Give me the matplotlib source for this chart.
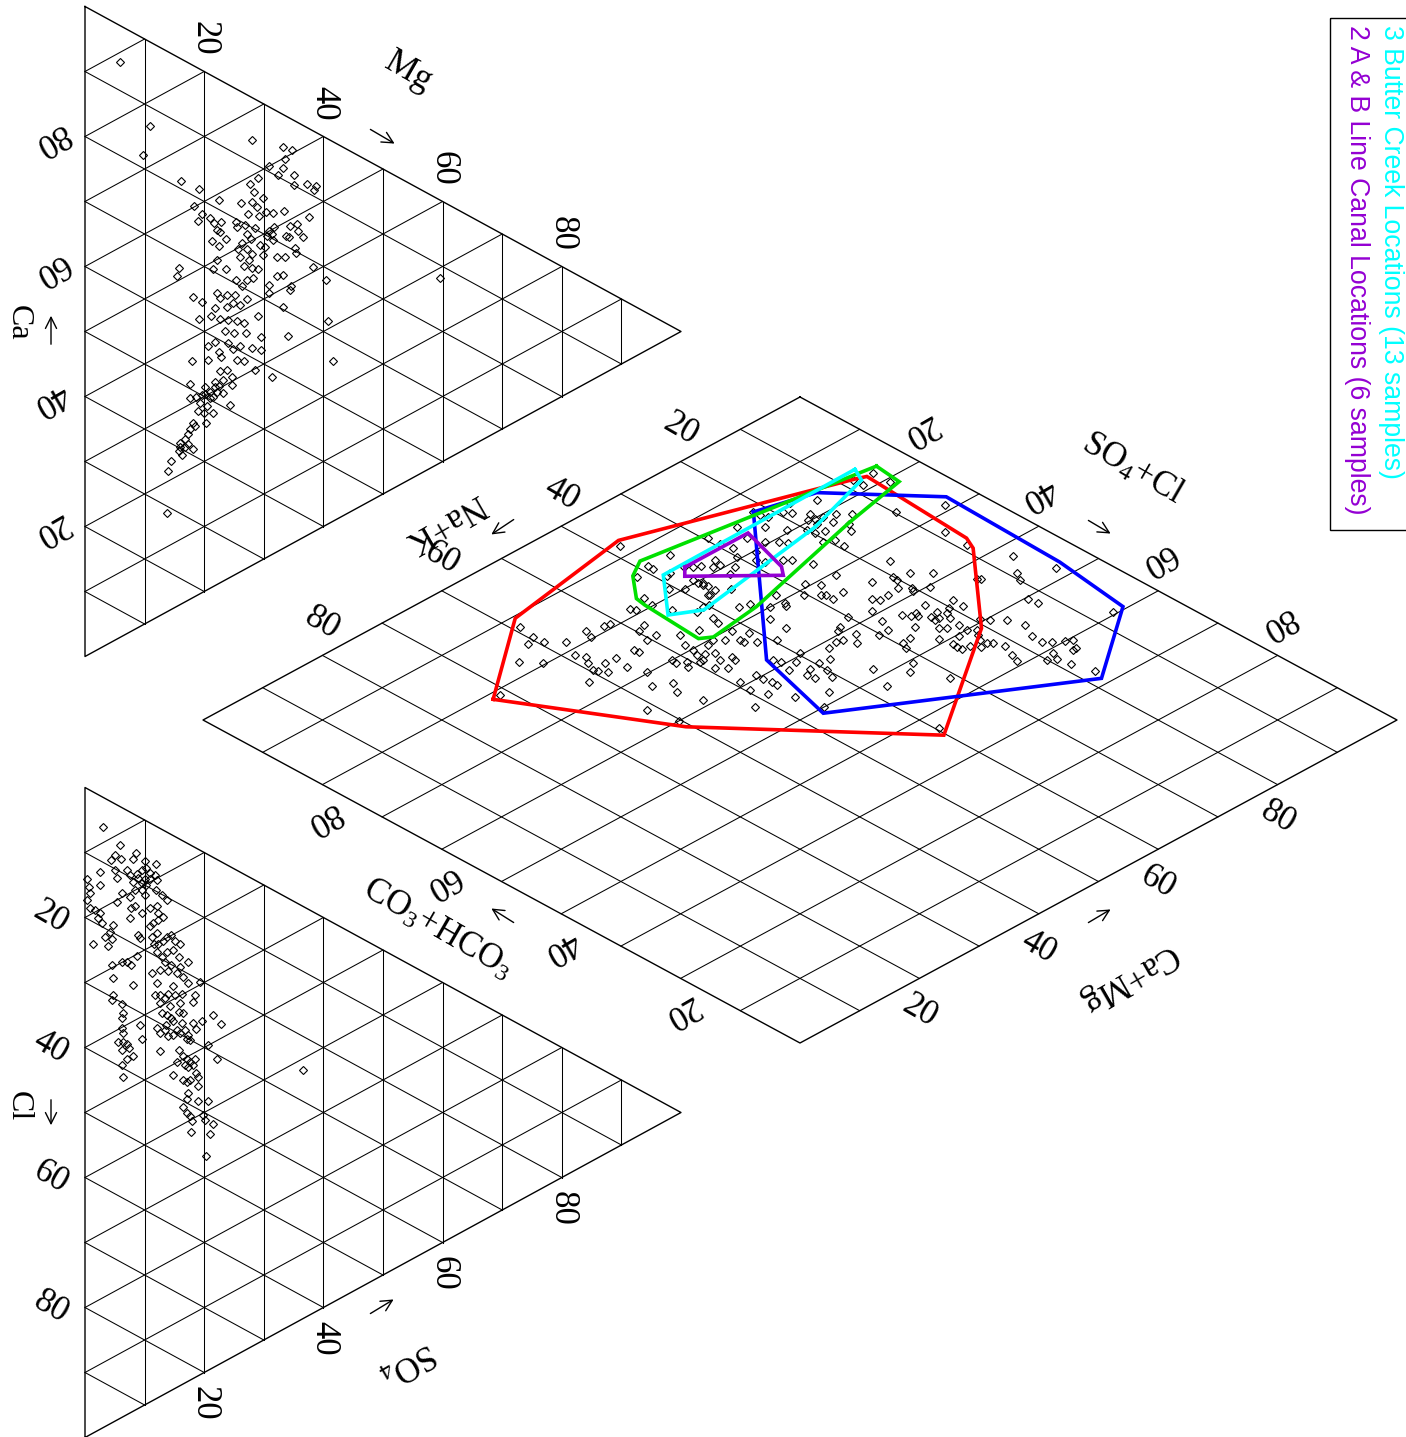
import matplotlib
matplotlib.use('Agg')
import matplotlib.pyplot as plt
import numpy as np
from matplotlib.patches import Rectangle

plt.rcParams['font.family'] = ['Liberation Serif', 'DejaVu Serif']
plt.rcParams['mathtext.fontset'] = 'custom'
plt.rcParams['mathtext.rm'] = 'Liberation Serif'
plt.rcParams['mathtext.it'] = 'Liberation Serif:italic'

# ---------------- data (percent) ----------------
cation_mg = [5.9,10.9,9.8,28,33.2,34.8,33.6,30.9,33.3,32.3,35.1,35.1,37.3,38.8,38.4,16.1,19.2,29.1,27.7,28.4,
             29.8,28,26.2,22.4,18.3,19.6,19,21,21.6,22.8,22.1,22.7,23.7,21.3,22.4,25.4,25.5,26.8,27.4,28.8,
             29.2,30.3,31.6,33.4,37.6,31.7,31.3,30.5,34.4,35.6,35.8,33.7,34.2,36.6,27.1,27.8,26.3,25.7,27.1,28.1,
             29.4,29.9,35.2,35.4,32.2,33.6,38.3,40.4,22.1,21.5,23.7,15.7,15.4,26.6,28,29.1,30.8,32.2,33.3,34.5,
             25.4,27.1,28.2,26.3,30.8,31.6,30.2,28.5,27.6,26,
             18.1,19.7,22.1,22.7,23.8,25.2,24.9,26,27.1,21.8,23.8,19.2,21.1,22.7,24,25.5,26.6,29.1,23.5,25,
             27,29.6,34.1,33.3,34.4,30.9,40.7,20.7,21.8,22.4,22.9,24,24.9,26,28,29.6,25.5,26.6,20.7,17.9,
             28.5,31.3,41.6,22.7,23.8,24.6,23.2,21.8,24.6,17.6,20.1,21,22.1,21.5,19.6,17.6,18.7,23.1,24.3,19.3,
             19,20.4,21.4,20,20.3,18.1,17.7,17.3,18.5,16.8,15.9,17.3,18.2,15.7,16.2,14.4,14,13.7,20.1,21,
             21.8,22.4,15.9,16.8,59.6]
cation_ca = [88.5,76.1,72.3,65.5,61.8,60.6,59.8,60,58.5,57.9,56.6,55,54,53,52.6,65.1,62.3,59,58.8,57.2,
             55.6,55.9,56.6,59.1,60.1,58.3,57.5,56.9,55.9,55.4,54.5,53.9,52.4,53.3,51.9,54.2,53.3,53,54.4,54.8,
             53.1,53.2,52.4,51.8,48.8,50.2,49.4,49.4,49.1,48.7,47.6,47.9,47.4,46.2,51.5,50.4,50.5,49.9,49.2,47.9,
             48.6,46.8,45.2,44.4,45.3,44.7,40.7,37.8,50,48.8,47.8,51.9,50.9,46.7,45.7,45,41.8,42.4,42.1,39.7,
             45.2,44.3,44.1,43.8,50,48.3,47.9,51.6,47.2,48.5,
             46.2,44.7,44.8,43.8,43.7,43,41.9,41.1,41.4,42.7,41.9,42.4,41.8,40.5,39.8,38.8,38,37.8,38.3,37.2,
             36.2,34.3,32.2,37.1,39.2,40.4,31.2,37.4,37.5,35.7,34.6,36.2,34.8,34.7,33.4,32.4,32.9,32.1,35.2,36.5,
             29.8,27.3,24.6,32.5,32.2,30.7,30.9,31.4,29.5,33.1,31.4,30.2,29.7,29.2,30.4,30.9,30.6,29,26.5,29.4,
             28.2,28.3,26.7,27.5,25.7,26.9,26.2,25.6,26.2,25,24.9,24.1,22.9,23.7,22.9,22.9,21.6,15.3,30.4,29.2,
             30.5,30.4,24.3,23.9,28.4]

anion_so4 = [3.1,5.8,5,6,4.3,8.5,8.1,10.1,11.9,5,2.5,7,7.6,8.7,9.5,10.3,10.9,11.7,8.9,10.1,
             10.9,5.3,8.1,9.5,10.3,12,8.4,9.5,11.9,0.3,0.6,0.8,0.3,2.6,6.2,7.6,10.1,12.9,13.7,5.3,
             0.8,1.7,2.5,7.8,8.4,9.5,10.9,12,12.3,13.1,7.6,2.2,2.8,4.7,4.2,3.4,1.4,3.9,4.5,8.9,
             9.2,11.2,10.9,11.4,12.3,12,11.5,12.3,13.1,13.7,14.5,15.1,15.9,12.1,12.9,13.8,14.8,15.8,17.2,13.4,
             14.5,15.9,4.5,6.2,7,7.8,8.7,11.2,12.6,14,15.4,16.5,17.3,19.3,4.7,8,12,14.8,
             4.7,4.5,6.2,6.4,6.2,6.2,6.4,5.6,6.4,7,6.2,7.3,7,8.1,6.2,6.4,9.2,9.5,11.7,12.6,
             13.4,12.6,14.3,14,15.1,16.2,18.5,18.2,15.9,12.9,13.7,14.5,14.8,15.7,16.5,16.2,16.8,15.4,15.9,14.8,
             13.4,14,12,17.1,17.6,17.3,18.6,19.7,21.4,22.9,18.2,15.7,16.5,17.1,17.6,16.8,17.3,18.2,18.5,15.4,
             14.8,16.5,17.1,17.6,19,19,12.6,17.3,17.1,16.5,19,20.7,17.1,17.6,17.9,19.8,20.1,21.5,21,17.8,
             20.3,20.7,22.1,12.6,13.6,18.7,36.6]
anion_cl = [4.6,5.9,7.9,8,9,5.8,7,6.2,5.8,10.2,11.7,9.2,9.7,8.9,7.9,7.2,7.7,7.6,9.5,9,
            8.7,11.3,10.5,9.9,9.8,8.2,11.6,11,9.8,14,15,15.9,17.2,13.7,13.2,13.1,11.5,10.1,10.5,14.9,
            18.2,18,18.1,14.7,14.1,14.6,13.1,12.3,13.2,13.3,16.3,19,19.5,18.8,20.1,21.3,23.4,22.4,21,18.2,
            18.6,17.4,15.9,15.2,14.2,16.4,18.3,18,17.1,16.1,15.4,16.1,16.2,19.2,19.6,18.4,17.6,18.1,18.2,20.1,
            20,19.6,25.1,23.7,23.3,23.4,21.6,23,21.8,21.3,20.9,20.9,21.4,20.3,27,26.4,24.1,23.2,
            29.5,30.5,30.2,31.5,32.4,33.9,34.6,36.3,35.9,35.9,37.3,36.5,38.2,37.3,39.6,41.3,31.9,34,26,25.6,
            25.7,26.9,26.4,24.7,24.4,23.6,22.7,23.9,25.2,28.3,28.1,28.2,28.5,26.7,26.5,28.2,28.9,29.6,29.8,30.7,
            30.6,31.3,31,30.1,30,29.4,27.9,26.1,24.3,24.9,27.2,32.6,33,33.2,33.4,34.3,34.3,33.6,32.5,34.5,
            36.8,36.8,36.8,36.2,35,36.4,34.2,38.3,39.3,40.9,38.8,37.9,41.6,41.8,42.4,40.5,41.1,41,42.8,44.1,
            46.5,29.3,30.7,31.4,29.7,34.6,25.1]

diamond_nak = [38.2,35.4,39,38.9,41.5,38.2,38.9,40.6,43.7,44.2,44.6,47.1,46.7,51.1,51.9,54.1,54.7,57.5,59.3,59.6,
               61,59,64.5,62.7,58.8,58.2,58.9,59.6,59.3,57.5,58.6,55.8,56.3,61.8,53.1,52.9,48.4,49.6,50.4,48.9,
               55.4,57.1,54.9,55.9,61.3,60.2,71.3,46.9,51.5,51.6,50.5,51.1,48,48.1,48.6,49.4,44.6,55,36,35.3,
               34.4,37.3,37.3,37.3,39.3,41.9,39.8,38.4,29.6,
               5.7,8.4,8.3,5.6,14.5,17.2,19.2,21.6,21.7,21.2,18.7,17.2,18.4,17.7,16.6,15,13.7,16.5,18.2,20,
               19.8,18.6,15.6,16.5,9.7,21.7,24.2,23.6,23,25.4,26.3,25.4,20.5,19.2,19.4,29.4,29,30,32.4,32.7,
               33.5,31.7,33.2,27.6,28.9,28.5,26.7,25.9,37,37,37,38.2,35.5,37.6,36.2,32.7,33.2,33.5,35,36.9,
               36.9,39.6,28.5,24.7,27.3,28.9,28.5,30.4,28.4,26.6,24.5,22.6,17.9,18.1,20,20.2,20.2,20.6,21.4,23.2,
               24.7,25.2,30,27.2,27.9,25.2,24.6,24,28.7,30.2,28.1,29.5,30,32.2,33.1,34,35,32,33.4,36.5,
               38,39.6,40,41.2,42.5,42.3,40.7,43.2,39.7,41.3,43.2,42.5,43,46.4,46.5,46.9,45.9,35.9,37.5,33.3,
               49.6,48.6,51.7,49.1,46.7,46.7,45.9,46.2,42.7,42.6,40.8,41.5,48,47.4,49.1,41.9,41.5,42,43.9,44.9,
               46.1,46.8,47.7,48.8,40.6,
               4.6,8.7,9,6.8,5.1,9.1,9.9,16.1,13.4,13,18.5,18.6,21.7,18.7,20.2,21.1,21.8,22.6,23.2,23,
               23.7,25.9,24.2,21.7,22,23.5,23.6,22.1,19.3,18.6,21.3,22,25.8,25.4,25.5,25.4,24.3,22.5,23.5,22.4,
               21.9,17.2,16.5,21.3,22.2,22.7,17.6,17.6,16.8,18.4,19.1,20.1,15.5,14.8,15.7,16.3,18.7,17.7,7,12,
               12.2,31,39.7,31.7]
diamond_so4cl = [8,13.6,14.4,13.4,14.2,16.4,16.6,18.7,22.2,18.1,19.8,18.6,19.2,19.2,19,18.3,19.7,18.3,16.5,14.8,
                 15.5,12.1,17.5,19.7,21.1,22.4,23.4,25,25.5,24.8,26.5,24.9,27.3,26.5,25.3,26,22.3,22.7,24.7,24.8,
                 29.7,32.3,33.6,35.3,35.6,40,21,26.8,30,30.9,31.5,32.4,28.8,30.2,31.3,32.6,27.6,38.8,16.5,17.4,
                 17.9,19.4,20.2,21,20,24.6,24.6,23,14.2,
                 17.9,17.3,18.9,20.7,17.4,15.6,16.3,14.9,13.9,15.9,17.3,18.9,19.8,20.2,20.5,21.1,22.4,22.1,21,21.2,
                 22.3,22.8,23.8,25,25.8,19.5,20.6,21.6,17.2,14.8,17.4,19.5,24.4,25.1,26.7,16,17.8,19.4,18.1,19.3,
                 19,20.8,21.5,20.3,21.6,22.6,23.9,24.5,20.7,21.6,22.8,23.1,24,27.3,27.9,28.6,30.7,31.2,30,31.9,
                 34.5,35.7,29.3,26.9,30.9,32.4,32.9,31,34,33.8,30.6,34.6,32.9,36.5,35.6,36.4,39,39.6,37.8,38,
                 38.1,37.2,38,39.2,41.6,42.3,43.2,43.8,43.5,43.5,46.6,46.8,47.8,38.9,39.5,41.2,41,41.4,42.9,41.3,
                 43,42.8,44.5,42.9,43.6,44.8,46,48.1,39.7,40.7,41.4,39.4,38.5,41.7,42.7,46.1,50,48.2,52,51.8,
                 41.2,43.3,44.2,39,40.5,39.4,34.5,35.3,32.6,33.2,32.2,34.3,36,34,34.9,28.2,27,30.6,31.3,30.4,
                 30.7,32.6,31.8,32.6,24.4,
                 28.9,33,36.9,42.5,47.9,45.5,46.8,38.4,43,43.3,40.2,44.2,42.7,46,45.2,45.7,44.7,45.9,45.8,45,
                 43.2,45.2,47.4,46.8,48.6,48.1,50.3,50,49.4,50.4,50.9,51.8,49,51.1,51.8,52.5,52.8,52.7,53.9,53.7,
                 54.3,51.9,54.2,55.7,57.7,59,56.4,58.2,59,60.8,62.1,61.4,59.9,60.5,61.9,62.1,64.1,67.1,59.5,51.9,
                 50.4,56.1,62.9,50.7]

# envelope polygons in the diamond (Na+K %, SO4+Cl %)
red_nak    = [72.5,58.1,37.4,8.1,6.7,7.9,8.9,20.6,40.3,60.6]
red_so4cl  = [21.1,10.4,7.0,17.3,17.9,35.8,37.9,51.0,64.4,41.5]
blue_nak   = [21.7,13.4,3.2,3.8,5.4,18.3,47.0,43.5]
blue_so4cl = [13.9,16.2,27.7,47.3,59.5,68.8,50.9,37.9]
green_nak   = [4.3,4.8,15.5,36.1,44.4,45.9,45.2,44.9,41.7,38.8]
green_so4cl = [17.1,21.4,23.6,28.8,29.9,28.9,19.2,17.5,13.7,12.0]
cyan_nak   = [6.6,7.7,18.9,41.0,44.8,39.0]
cyan_so4cl = [15.8,18.0,21.4,24.9,22.7,16.1]
purple_nak   = [36.0,25.4,27.8,29.0,37.4]
purple_so4cl = [16.7,16.7,24.7,26.2,18.1]

ticks = [20, 40, 60, 80]
legend_labels = ['3 Butter Creek Locations (13 samples)', '2 A & B Line Canal Locations (6 samples)']
legend_colors = ['#00FFFF', '#9400D3']

# ---------------- layout (pixels) ----------------
W, H = 1406, 1437
CAT_CA, CAT_NA, CAT_MG = (85, 6.5), (85, 656.5), (681, 331.5)
AN_HCO3, AN_CL, AN_SO4 = (85, 787.5), (85, 1437.5), (681, 1112.5)
D_TOP, D_LEFT, D_RIGHT = (800, 397), (203, 720), (1397, 720)

fig = plt.figure(figsize=(W / 100, H / 100), dpi=100)
ax = fig.add_axes([0, 0, 1, 1])
ax.set_xlim(0, W)
ax.set_ylim(H, 0)
ax.axis('off')


def tern(p1, p2, p3, f1, f2):
    f1 = np.asarray(f1, float) / 100
    f2 = np.asarray(f2, float) / 100
    f3 = 1 - f1 - f2
    return (f1 * p1[0] + f2 * p2[0] + f3 * p3[0], f1 * p1[1] + f2 * p2[1] + f3 * p3[1])


def cat_xy(ca, mg):
    return tern(CAT_CA, CAT_MG, CAT_NA, ca, mg)


def an_xy(cl, so4):
    return tern(AN_CL, AN_SO4, AN_HCO3, cl, so4)


def dia_xy(nak, so4cl):
    n = np.asarray(nak, float) / 100
    a = np.asarray(so4cl, float) / 100
    x = D_TOP[0] + n * (D_LEFT[0] - D_TOP[0]) + a * (D_RIGHT[0] - D_TOP[0])
    y = D_TOP[1] + n * (D_LEFT[1] - D_TOP[1]) + a * (D_RIGHT[1] - D_TOP[1])
    return x, y


GRID = dict(color='black', lw=0.75, zorder=1)
EDGE = dict(color='black', lw=1.0, zorder=1)


def draw_triangle(fxy):
    for k in range(10, 100, 10):
        x, y = fxy([k, k], [0, 100 - k]); ax.plot(x, y, **GRID)
        x, y = fxy([0, 100 - k], [k, k]); ax.plot(x, y, **GRID)
        x, y = fxy([100 - k, 0], [0, 100 - k]); ax.plot(x, y, **GRID)
    x, y = fxy([100, 0, 0, 100], [0, 100, 0, 0]); ax.plot(x, y, **EDGE)


draw_triangle(cat_xy)
draw_triangle(an_xy)
for k in range(10, 100, 10):
    x, y = dia_xy([k, k], [0, 100]); ax.plot(x, y, **GRID)
    x, y = dia_xy([0, 100], [k, k]); ax.plot(x, y, **GRID)
x, y = dia_xy([0, 100, 100, 0, 0], [0, 0, 100, 100, 0]); ax.plot(x, y, **EDGE)

# ---------------- points ----------------
MK = dict(ls='none', marker='D', ms=4.0, mfc='none', mec='black', mew=0.8, zorder=2)
ax.plot(*cat_xy(cation_ca, cation_mg), **MK)
ax.plot(*an_xy(anion_cl, anion_so4), **MK)
ax.plot(*dia_xy(diamond_nak, diamond_so4cl), **MK)

# ---------------- envelopes ----------------
for nk, sc, col in [(red_nak, red_so4cl, '#FF0000'), (blue_nak, blue_so4cl, '#0000FF'),
                    (green_nak, green_so4cl, '#00E000'), (cyan_nak, cyan_so4cl, '#00FFFF'),
                    (purple_nak, purple_so4cl, '#9400D3')]:
    x, y = dia_xy(nk + nk[:1], sc + sc[:1])
    ax.plot(x, y, color=col, lw=2.6, zorder=3, solid_joinstyle='miter')

# ---------------- labels ----------------
FS = 25
TX = dict(fontsize=FS, ha='center', va='center', rotation_mode='anchor', color='black')
for v in ticks:
    x, y = cat_xy(v, 0); ax.text(x - 34, y + 2.5, str(v), rotation=-150, **TX)
    x, y = cat_xy(100 - v, v); ax.text(x, y - 33, str(v), rotation=-90, **TX)
    x, y = an_xy(v, 0); ax.text(x - 34, y, str(v), rotation=-30, **TX)
    x, y = an_xy(100 - v, v); ax.text(x, y + 31, str(v), rotation=-90, **TX)
    x, y = dia_xy(v, 0); ax.text(x, y - 32, str(v), rotation=-30, **TX)
    x, y = dia_xy(0, v); ax.text(x, y - 32, str(v), rotation=-150, **TX)
    x, y = dia_xy(100, 100 - v); ax.text(x, y + 33, str(v), rotation=-150, **TX)
    x, y = dia_xy(100 - v, 100); ax.text(x, y + 33, str(v), rotation=-30, **TX)

TXS = dict(TX, fontsize=23)
ax.text(18.5, 323, 'Ca', rotation=-90, **TXS)
ax.text(18.5, 1106, 'Cl', rotation=-90, **TXS)
ax.text(408, 72, 'Mg', rotation=-30, **TX)
ax.text(444, 523, 'Na+K', rotation=-150, **TX)
ax.text(1132, 469, r'SO$_4$+Cl', rotation=-30, **TX)
ax.text(438, 929, r'CO$_3$+HCO$_3$', rotation=-30, **TX)
ax.text(1128, 978, 'Ca+Mg', rotation=-150, **TX)
ax.text(408, 1363, r'SO$_4$', rotation=-150, **TX)

ARW = dict(arrowstyle='->', lw=1.0, color='black', mutation_scale=20)
for head, tail in [((51, 313), (51, 347)), ((397, 145), (368, 128)), ((489, 536), (516, 518)),
                   ((1113, 535), (1086, 519)), ((489, 907), (516, 924)), ((1113, 908), (1086, 924)),
                   ((51, 1128), (51, 1097)), ((396, 1298), (368, 1315))]:
    ax.annotate('', xy=head, xytext=tail, arrowprops=ARW)

# ---------------- legend ----------------
ax.add_patch(Rectangle((1329.5, 17.5), 120, 512, fill=False, ec='black', lw=1.0, zorder=4))
for (lab, col, xc) in zip(legend_labels, legend_colors, [1391, 1357]):
    ax.text(xc, 25, lab, rotation=-90, color=col, fontsize=19.2, family=['Liberation Sans', 'DejaVu Sans'],
            ha='center', va='top')

fig.savefig('out.png', dpi=100)
